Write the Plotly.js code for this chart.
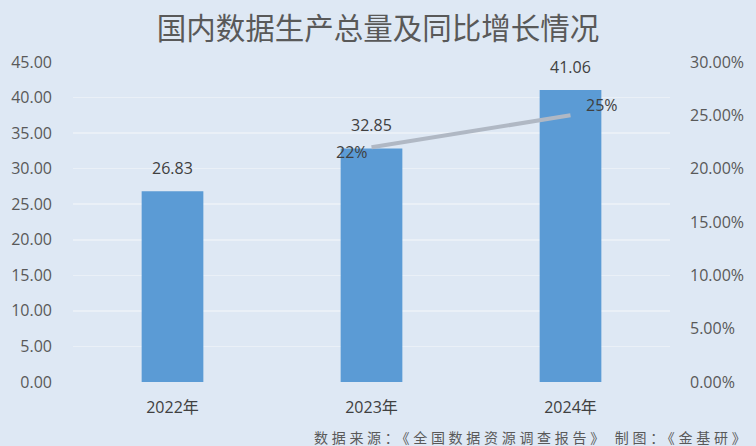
<!DOCTYPE html>
<html>
<head>
<meta charset="utf-8">
<script src="https://cdn.plot.ly/plotly-3.0.1.min.js"></script>
<style>
  html, body { margin: 0; padding: 0; background: #dee8f4; }
  #chart { width: 756px; height: 446px; }
  /* the source line in the original is set with wide tracking */
  .source-note text { letter-spacing: 3.7px; }
</style>
</head>
<body>
<div id="chart"></div>
<script>
  // Values.
  const years = ["2022年", "2023年", "2024年"];
  const volume = [26.83, 32.85, 41.06];
  const growthYears = ["2023年", "2024年"];
  const growth = [0.22, 0.25];
  const growthLabels = ["22%", "25%"];

  const FONT = "Open Sans, Noto Sans CJK SC, sans-serif";
  const CJK = "Noto Sans CJK SC, Noto Sans, sans-serif";
  const TEXT = "#404040";
  const TICK = "#595959";
  const GRID = "#eaf0f7";

  const bars = {
    x: years,
    y: volume,
    type: "bar",
    width: 0.31,
    marker: { color: "#5b9bd5" },
    hoverinfo: "skip",
  };

  const line = {
    x: growthYears,
    y: growth,
    yaxis: "y2",
    type: "scatter",
    mode: "lines",
    line: { color: "#b0b8c4", width: 4 },
    hoverinfo: "skip",
  };

  // Value labels sit a little above each bar; growth labels beside the points.
  const barLabels = years.map((yr, i) => ({
    x: yr, y: volume[i], xref: "x", yref: "y",
    text: volume[i].toFixed(2), showarrow: false,
    yanchor: "bottom", yshift: 10,
    font: { family: FONT, size: 16, color: TEXT },
  }));
  const growthNotes = growthYears.map((yr, i) => ({
    x: yr, y: growth[i], xref: "x", yref: "y2",
    text: growthLabels[i], showarrow: false,
    xanchor: i === 0 ? "right" : "left",
    xshift: i === 0 ? -2 : 13,
    yshift: i === 0 ? -5 : 10,
    font: { family: FONT, size: 16, color: TEXT },
  }));

  const layout = {
    width: 756,
    height: 446,
    paper_bgcolor: "#dee8f4",
    plot_bgcolor: "#dee8f4",
    font: { family: FONT, color: TEXT, size: 14 },
    showlegend: false,
    margin: { l: 73, r: 86, t: 62, b: 64 },
    title: {
      text: "国内数据生产总量及同比增长情况",
      font: { family: CJK, size: 29.5, color: "#595959" },
      x: 0.5,
      xanchor: "center",
      y: 0.935,
      yanchor: "middle",
    },
    xaxis: {
      type: "category",
      showgrid: false,
      showline: false,
      ticks: "",
      ticklabelstandoff: 14,
      tickfont: { family: FONT, size: 16, color: TEXT },
    },
    yaxis: {
      range: [0, 45],
      dtick: 5,
      tickformat: ".2f",
      gridcolor: GRID,
      gridwidth: 1.5,
      zeroline: false,
      showline: false,
      ticks: "",
      ticklabelstandoff: 20,
      tickfont: { family: FONT, size: 16, color: TICK },
    },
    yaxis2: {
      overlaying: "y",
      side: "right",
      range: [0, 0.3],
      dtick: 0.05,
      tickformat: ".2%",
      showgrid: false,
      zeroline: false,
      showline: false,
      ticks: "",
      ticklabelstandoff: 19,
      tickfont: { family: FONT, size: 16, color: TICK },
    },
    annotations: barLabels.concat(growthNotes, [
      {
        // left-anchored so the extra tracking grows to the right
        text: "数据来源：《全国数据资源调查报告》 制图：《金基研》",
        xref: "paper",
        yref: "paper",
        x: 0.4,
        y: -0.172,
        xanchor: "left",
        yanchor: "middle",
        align: "left",
        showarrow: false,
        font: { family: CJK, size: 14, color: "#595959" },
      },
    ]),
  };

  Plotly.newPlot("chart", [bars, line], layout, { displayModeBar: false, staticPlot: true })
    .then(function (gd) {
      const notes = gd.querySelectorAll(".annotation");
      notes[notes.length - 1].classList.add("source-note");
    });
</script>
</body>
</html>
